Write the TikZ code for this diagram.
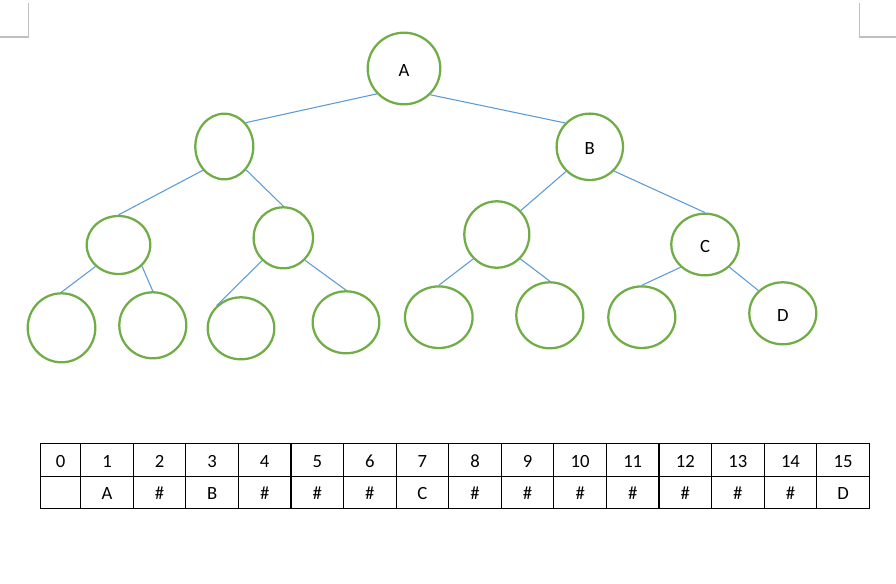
\documentclass[tikz,border=0pt]{standalone}
\usepackage{fontspec}
\setmainfont{Carlito}
\usetikzlibrary{shapes.geometric}
\definecolor{ringgreen}{RGB}{112,173,71}
\definecolor{edgeblue}{RGB}{91,155,213}
\definecolor{markgray}{RGB}{191,191,191}
\begin{document}
\begin{tikzpicture}[x=0.75pt,y=-0.75pt,
  tnode/.style={ellipse, draw=ringgreen, line width=1.7pt, inner sep=0pt,
    font=\fontsize{14}{16}\selectfont, text height=11.8pt, text depth=0pt},
  tedge/.style={draw=edgeblue, line width=0.8pt},
  cell/.style={rectangle, inner sep=0pt, outer sep=0pt,
    font=\fontsize{14}{16}\selectfont, text height=11.2pt, text depth=0pt},
  rule/.style={draw=black, line width=0.8pt},
  cropmark/.style={draw=markgray, line width=0.8pt}]
\useasboundingbox (0,0) rectangle (896,583);
% crop marks
\coordinate (tl1) at (28.7,3);
\coordinate (tl2) at (28.7,37);
\coordinate (tl3) at (0,37);
\coordinate (tr1) at (859.3,3);
\coordinate (tr2) at (859.3,37);
\coordinate (tr3) at (896,37);
\draw[cropmark] (tl1) -- (tl2) -- (tl3);
\draw[cropmark] (tr1) -- (tr2) -- (tr3);
% tree nodes
\node[tnode, minimum width=72.6*0.75pt, minimum height=71.6*0.75pt] (A) at (404,68.5) {A};
\node[tnode, minimum width=58*0.75pt, minimum height=65.6*0.75pt] (L) at (224.3,146.5) {};
\node[tnode, minimum width=66.4*0.75pt, minimum height=66.4*0.75pt] (B) at (589.8,146.8) {B};
\node[tnode, minimum width=63.6*0.75pt, minimum height=58*0.75pt] (LL) at (118.5,245) {};
\node[tnode, minimum width=59.4*0.75pt, minimum height=61*0.75pt] (LR) at (283.3,237.8) {};
\node[tnode, minimum width=65*0.75pt, minimum height=66.4*0.75pt] (RL) at (496.8,234.5) {};
\node[tnode, minimum width=67.4*0.75pt, minimum height=61.6*0.75pt] (C) at (705,244.5) {C};
\node[tnode, minimum width=67.6*0.75pt, minimum height=69*0.75pt] (n1) at (61.5,327.8) {};
\node[tnode, minimum width=67*0.75pt, minimum height=66*0.75pt] (n2) at (152.8,325.3) {};
\node[tnode, minimum width=66.6*0.75pt, minimum height=62*0.75pt] (n3) at (241,328.3) {};
\node[tnode, minimum width=66.6*0.75pt, minimum height=62*0.75pt] (n4) at (346,322.3) {};
\node[tnode, minimum width=67.6*0.75pt, minimum height=61.6*0.75pt] (n5) at (438.8,317.2) {};
\node[tnode, minimum width=67*0.75pt, minimum height=66*0.75pt] (n6) at (549.8,315.3) {};
\node[tnode, minimum width=67*0.75pt, minimum height=61.6*0.75pt] (n7) at (641.8,317.2) {};
\node[tnode, minimum width=67*0.75pt, minimum height=62*0.75pt] (D) at (782.8,313.3) {D};
% edges
\draw[tedge] (A.223) -- (L.48);
\draw[tedge] (A.315) -- (B.136);
\draw[tedge] (L.228) -- (LL.90);
\draw[tedge] (L.313) -- (LR.90);
\draw[tedge] (LL.223) -- (n1.90);
\draw[tedge] (LL.318) -- (n2.90);
\draw[tedge] (LR.227) -- (n3.137);
\draw[tedge] (LR.314) -- (n4.90);
\draw[tedge] (B.226) -- (RL.45);
\draw[tedge] (B.315) -- (C.90);
\draw[tedge] (RL.226) -- (n5.90);
\draw[tedge] (RL.314) -- (n6.90);
\draw[tedge] (C.223) -- (n7.90);
\draw[tedge] (C.317) -- (D.137);
% table cells
\node[cell, minimum width=40*0.75pt, minimum height=33*0.75pt] (h0) at (60.7,459.8) {0};
\node[cell, minimum width=40*0.75pt, minimum height=32*0.75pt] (v0) at (60.7,492.3) {};
\foreach \i/\t in {1/A,2/\#,3/B,4/\#,5/\#,6/\#,7/C,8/\#,9/\#,10/\#,11/\#,12/\#,13/\#,14/\#,15/D} {
  \node[cell, minimum width=52.575*0.75pt, minimum height=33*0.75pt] (h\i) at ({80.7+(\i-0.5)*52.575},459.8) {\i};
  \node[cell, minimum width=52.575*0.75pt, minimum height=32*0.75pt] (v\i) at ({80.7+(\i-0.5)*52.575},492.3) {\t};
}
% table rules
\draw[rule] (h0.north west) rectangle (v15.south east);
\draw[rule] (h0.south west) -- (h15.south east);
\foreach \i in {1,...,15} {
  \draw[rule] (h\i.north west) -- (v\i.south west);
}
\end{tikzpicture}
\end{document}
